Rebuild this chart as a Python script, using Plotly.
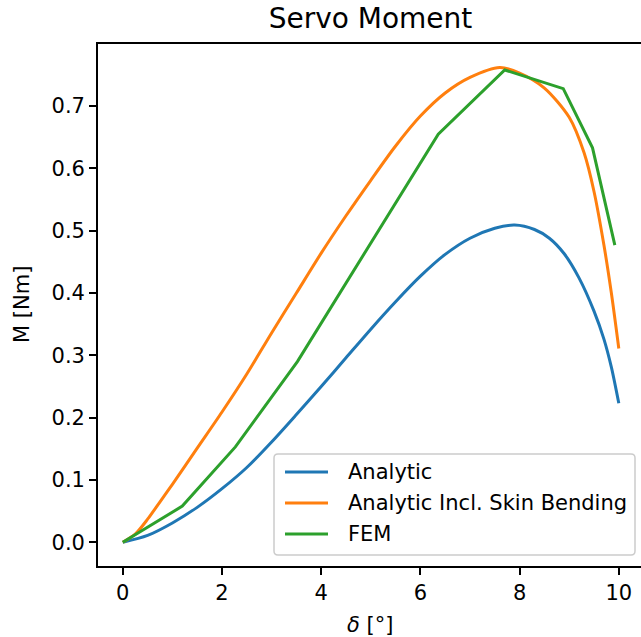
import plotly.graph_objects as go

# Deflection angle [deg] and servo moment [Nm]
analytic_delta = [0, 0.5, 1.0, 1.5, 2.0, 2.5, 3.0, 3.5, 4.0, 4.5, 5.0, 5.5, 6.0, 6.5,
                  7.0, 7.5, 7.9, 8.3, 8.6, 8.9, 9.2, 9.5, 9.7, 9.85, 10.0]
analytic_m = [0, 0.011, 0.031, 0.056, 0.086, 0.120, 0.161, 0.205, 0.250, 0.296, 0.342,
              0.386, 0.427, 0.462, 0.488, 0.504, 0.509, 0.502, 0.488, 0.463, 0.424,
              0.371, 0.326, 0.281, 0.223]

skin_delta = [0, 0.25, 0.5, 0.75, 1.0, 1.5, 2.0, 2.5, 3.0, 3.5, 4.0, 4.5, 5.0, 5.5, 6.0,
              6.5, 7.0, 7.6, 8.0, 8.5, 9.0, 9.3, 9.5, 9.7, 9.85, 10.0]
skin_m = [0, 0.013, 0.037, 0.065, 0.093, 0.151, 0.209, 0.270, 0.336, 0.400, 0.464, 0.524,
          0.581, 0.636, 0.684, 0.721, 0.746, 0.762, 0.753, 0.729, 0.682, 0.625, 0.563,
          0.477, 0.400, 0.311]

fem_delta = [0, 1.2, 2.27, 3.52, 6.36, 7.7, 8.88, 9.47, 9.92]
fem_m = [0, 0.058, 0.153, 0.29, 0.655, 0.758, 0.728, 0.633, 0.477]

series_names = ["Analytic", "Analytic Incl. Skin Bending", "FEM"]
series_colors = ["#1f77b4", "#ff7f0e", "#2ca02c"]

x_ticks = [0, 2, 4, 6, 8, 10]
y_ticks = [0.0, 0.1, 0.2, 0.3, 0.4, 0.5, 0.6, 0.7]

FONT = "DejaVu Sans"
W, H = 641, 637
L, T, B = 98, 44, 71
PW, PH = W - L, H - T - B


def px_x(p):
    return (p - L) / PW


def px_y(p):
    return (H - B - p) / PH


fig = go.Figure()
fig.add_trace(go.Scatter(x=analytic_delta, y=analytic_m, mode="lines", name=series_names[0],
                         line=dict(color=series_colors[0], width=3, shape="spline",
                                   smoothing=0.8)))
fig.add_trace(go.Scatter(x=skin_delta, y=skin_m, mode="lines", name=series_names[1],
                         line=dict(color=series_colors[1], width=3, shape="spline",
                                   smoothing=0.8)))
fig.add_trace(go.Scatter(x=fem_delta, y=fem_m, mode="lines", name=series_names[2],
                         line=dict(color=series_colors[2], width=3)))

px_per_unit = 49.6
x_right = -0.5 + PW / px_per_unit

# legend box (rounded) with line handles and labels
bx0, bx1, by0, by1, r = 274, 635, 454, 555, 4
x0, x1 = px_x(bx0), px_x(bx1)
y0, y1 = px_y(by1), px_y(by0)
rx, ry = r / PW, r / PH
box_path = (f"M {x0 + rx},{y1} L {x1 - rx},{y1} Q {x1},{y1} {x1},{y1 - ry} "
            f"L {x1},{y0 + ry} Q {x1},{y0} {x1 - rx},{y0} L {x0 + rx},{y0} "
            f"Q {x0},{y0} {x0},{y0 + ry} L {x0},{y1 - ry} Q {x0},{y1} {x0 + rx},{y1} Z")
shapes = [dict(type="path", xref="paper", yref="paper", path=box_path,
               fillcolor="rgba(255,255,255,0.8)", line=dict(color="#cccccc", width=1.5))]
annotations = []
for i, (name, col) in enumerate(zip(series_names, series_colors)):
    yy = px_y(472 + 31 * i)
    shapes.append(dict(type="line", xref="paper", yref="paper", x0=px_x(285), x1=px_x(328),
                       y0=yy, y1=yy, line=dict(color=col, width=3)))
    annotations.append(dict(text=name, xref="paper", yref="paper", x=px_x(346), y=yy,
                            xanchor="left", yanchor="middle", showarrow=False,
                            font=dict(family=FONT, size=21, color="black")))

annotations += [
    dict(text="<i>δ</i> [°]", xref="paper", yref="paper", x=px_x(370), y=px_y(625),
         xanchor="center", yanchor="middle", showarrow=False,
         font=dict(family=FONT, size=21, color="black")),
    dict(text="M [Nm]", xref="paper", yref="paper", x=px_x(22), y=0.5,
         xanchor="center", yanchor="middle", textangle=-90, showarrow=False,
         font=dict(family=FONT, size=21, color="black")),
]

fig.update_layout(
    width=W, height=H,
    margin=dict(l=L, r=0, t=T, b=B),
    paper_bgcolor="white", plot_bgcolor="white",
    font=dict(family=FONT, size=21, color="black"),
    showlegend=False,
    title=dict(text="Servo Moment", x=370.5 / W, xanchor="center",
               y=1 - 18 / H, yanchor="middle", font=dict(family=FONT, size=28, color="black")),
    xaxis=dict(range=[-0.5, x_right], tickvals=x_ticks, ticktext=[str(v) for v in x_ticks],
               showgrid=False, zeroline=False, showline=True, mirror=True,
               linecolor="black", linewidth=1.7, ticks="outside", ticklen=7,
               tickwidth=1.7, tickcolor="black", tickfont=dict(size=21)),
    yaxis=dict(range=[-0.0381, 0.7997], tickvals=y_ticks,
               ticktext=[f"{v:.1f}" for v in y_ticks],
               showgrid=False, zeroline=False, showline=True, mirror=False,
               linecolor="black", linewidth=1.7, ticks="outside", ticklen=7,
               tickwidth=1.7, tickcolor="black", tickfont=dict(size=21)),
    shapes=shapes,
    annotations=annotations,
)

fig.write_html("out.html")
